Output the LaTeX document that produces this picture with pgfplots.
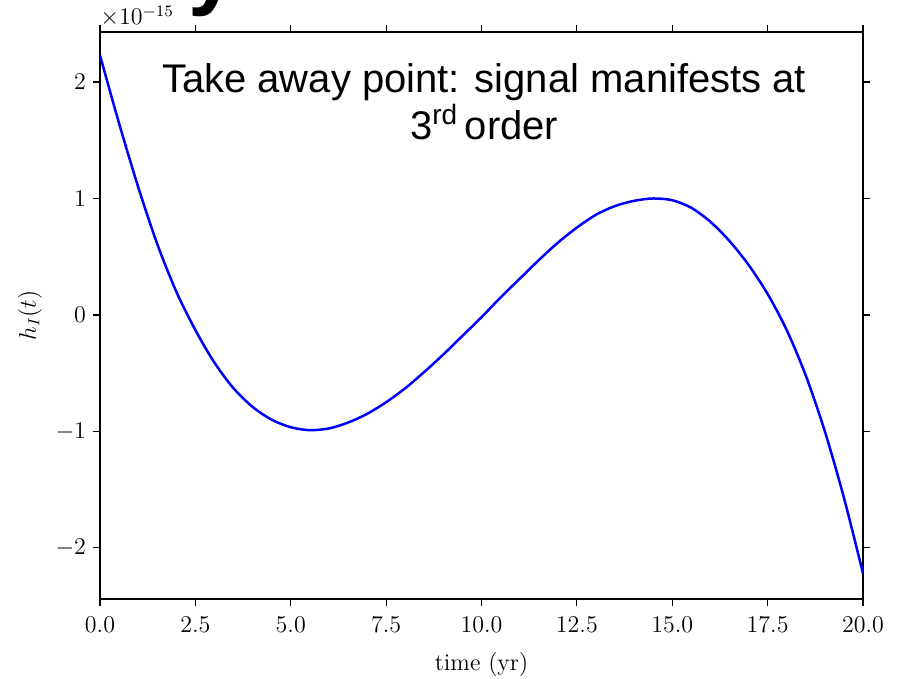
\documentclass[border=0pt]{standalone}
\usepackage{fontspec}
\usepackage{pgfplots}
\pgfplotsset{compat=1.18}
\newfontfamily\arial{Liberation Sans}

% sampled strain signal h_I(t), in units of 1e-15
\pgfplotstableread{
t      h
0.0    2.23
0.5    1.645
1.0    1.10
1.5    0.61
2.0    0.20
2.5   -0.13
3.0   -0.41
3.5   -0.63
4.0   -0.79
4.5   -0.90
5.0   -0.965
5.5   -0.99
6.0   -0.975
6.5   -0.925
7.0   -0.85
7.5   -0.75
8.0   -0.63
8.5   -0.49
9.0   -0.34
9.5   -0.18
10.0  -0.02
10.5   0.15
11.0   0.31
11.5   0.47
12.0   0.62
12.5   0.75
13.0   0.86
13.5   0.935
14.0   0.98
14.5   1.00
15.0   0.985
15.5   0.92
16.0   0.80
16.5   0.635
17.0   0.43
17.5   0.18
18.0  -0.13
18.5  -0.52
19.0  -1.00
19.5  -1.57
20.0  -2.22
}\signal

\begin{document}
\begin{tikzpicture}
\useasboundingbox (-50pt,-40pt) rectangle (403pt,299.5pt);
\begin{axis}[
  at={(0,0)}, anchor=south west,
  scale only axis,
  width=381.5pt, height=283.5pt,
  xmin=0, xmax=20, ymin=-2.44, ymax=2.43,
  xtick={0,2.5,...,20}, ytick={-2,-1,0,1,2},
  tick align=outside, tick pos=both,
  major tick length=3.5pt,
  axis line style={line width=0.6pt},
  every tick/.style={line width=0.6pt, black},
  xticklabel style={yshift=-2pt, /pgf/number format/.cd, fixed, fixed zerofill, precision=1},
  ticklabel style={font=\fontsize{12}{14}\selectfont},
  xlabel={time (yr)},
  ylabel={$h_I(t)$},
  xlabel style={yshift=-3pt},
  label style={font=\fontsize{12}{14}\selectfont},
  scaled y ticks=false,
]
\addplot[blue, line width=1.25pt, smooth] table[x=t, y=h] {\signal};
\node[font=\arial\fontsize{20}{24}\selectfont, anchor=base] at (axis cs:10.07,1.91) {Take away point: signal manifests at};
\node[font=\arial\fontsize{20}{24}\selectfont, anchor=base] at (axis cs:10.07,1.505) {3\textsuperscript{rd}\,order};
\end{axis}
\node[anchor=base west, inner sep=0pt, font=\fontsize{12}{14}\selectfont] at (0pt,287pt) {$\times10^{-15}$};
\node[anchor=base west, inner sep=0pt, font=\arial\bfseries\fontsize{44}{50}\selectfont] at (44pt,300pt) {y};
\end{tikzpicture}
\end{document}
